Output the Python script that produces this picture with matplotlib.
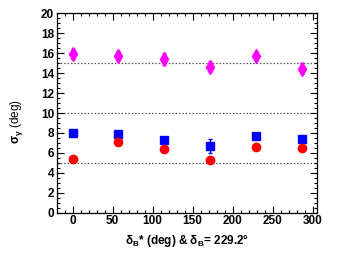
import matplotlib
matplotlib.use("Agg")
import matplotlib.pyplot as plt
from matplotlib.ticker import MultipleLocator

plt.rcParams['font.family'] = ['Liberation Sans', 'DejaVu Sans']
plt.rcParams['mathtext.fontset'] = 'custom'
plt.rcParams['mathtext.rm'] = 'Liberation Sans:bold'
plt.rcParams['mathtext.it'] = 'Liberation Sans:bold'
plt.rcParams['mathtext.bf'] = 'Liberation Sans:bold'

delta_b = [0.0, 57.3, 114.6, 171.9, 229.2, 286.5]
sigma_magenta = [15.9, 15.75, 15.45, 14.65, 15.7, 14.45]
err_magenta = [0.5, 0.45, 0.6, 0.55, 0.4, 0.55]
sigma_blue = [7.95, 7.9, 7.25, 6.72, 7.65, 7.43]
err_blue = [0.15, 0.15, 0.2, 0.7, 0.15, 0.15]
sigma_red = [5.42, 7.05, 6.4, 5.3, 6.62, 6.52]
err_red = [0.1, 0.1, 0.1, 0.1, 0.1, 0.1]
ref_lines = [5, 10, 15]

fig = plt.figure(figsize=(3.53, 2.54), dpi=100)
ax = fig.add_axes([0.1615, 0.1626, 0.7355, 0.785])

for y in ref_lines:
    ax.axhline(y, color='#555555', linestyle=(0, (1.2, 1.5)), linewidth=0.9, zorder=1)

ax.errorbar(delta_b, sigma_magenta, yerr=err_magenta, fmt='d', color='#ff00ff',
            markersize=7, capsize=1.5, elinewidth=1, zorder=3)
ax.errorbar(delta_b, sigma_blue, yerr=err_blue, fmt='s', color='#0000ff',
            markersize=5.4, capsize=1.5, elinewidth=1, zorder=3)
ax.errorbar(delta_b, sigma_red, yerr=err_red, fmt='o', color='#ff0000',
            markersize=6, capsize=0, elinewidth=1, zorder=3)

ax.set_xlim(-19.5, 305)
ax.set_ylim(0, 20)
ax.xaxis.set_major_locator(MultipleLocator(50))
ax.xaxis.set_minor_locator(MultipleLocator(10))
ax.yaxis.set_major_locator(MultipleLocator(2))
ax.yaxis.set_minor_locator(MultipleLocator(0.5))
ax.tick_params(which='both', direction='in', top=True, right=True, labelsize=8.5, pad=2)
ax.tick_params(which='major', length=5, width=0.8)
ax.tick_params(which='minor', length=2.5, width=0.8)
for lab in ax.get_xticklabels() + ax.get_yticklabels():
    lab.set_fontweight('bold')
for s in ax.spines.values():
    s.set_linewidth(0.9)

ax.set_xlabel(r'$\delta_{\mathrm{B}}$* (deg) & $\delta_{\mathrm{B}}$= 229.2°', fontsize=8.5,
              fontweight='bold', labelpad=3)
ax.set_ylabel(r'$\sigma_{\gamma}$ (deg)', fontsize=8.5)
ax.yaxis.set_label_coords(-0.125, 0.455)

fig.savefig('out.png', dpi=100)
